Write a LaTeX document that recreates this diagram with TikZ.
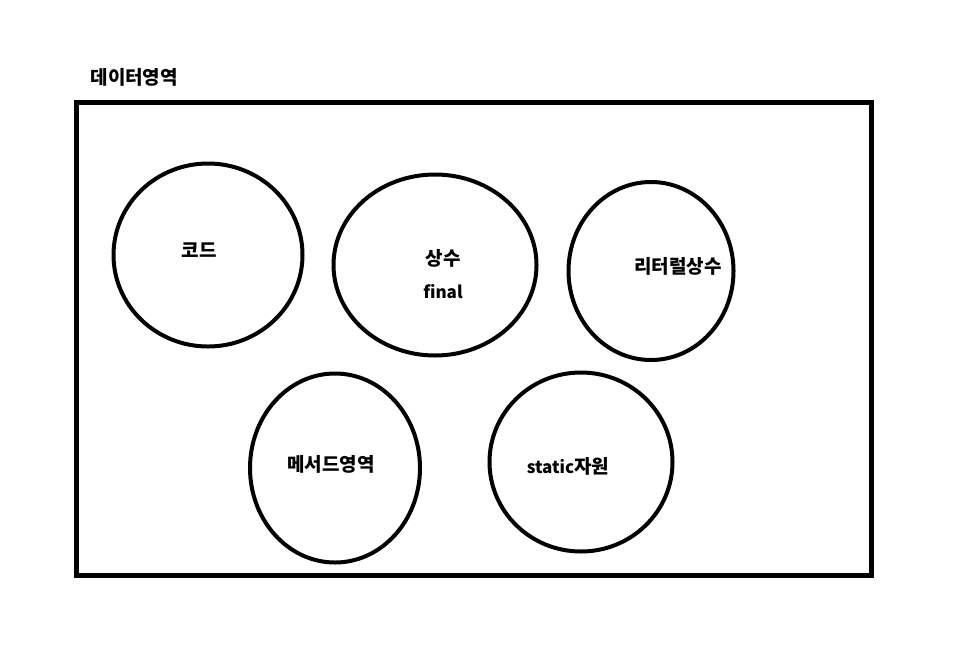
\documentclass[tikz,border=0pt]{standalone}
\usepackage{fontspec}
\setmainfont{Noto Sans CJK KR}
\usepackage{tikz}
\usetikzlibrary{shapes.geometric}

\newcommand{\latin}[1]{{\fontsize{17}{19}\selectfont #1}}

\tikzset{
  area/.style={ellipse,draw,line width=4pt,inner sep=0pt},
  lbl/.style={font=\fontsize{19}{22}\selectfont\bfseries}
}

\begin{document}
\begin{tikzpicture}[x=1pt,y=-1pt]
\useasboundingbox (0,0) rectangle (976,659);

% Data area
\node[lbl,anchor=west] (title) at (87,77) {데이터영역};
\draw[line width=5pt] (76,102) rectangle (871,575);

% Upper row
\node[area,minimum width=189pt,minimum height=183pt] (code) at (208,255) {};
\node[area,minimum width=203pt,minimum height=181pt] (const) at (435,265) {};
\node[area,minimum width=165pt,minimum height=178pt] (literal) at (651,271) {};

% Lower row
\node[area,minimum width=170pt,minimum height=189pt] (method) at (335,468) {};
\node[area,minimum width=183pt,minimum height=179pt] (static) at (581,462) {};

% Labels
\node[lbl] (codetxt) at (199,250) {코드};
\node[lbl] (consttxt) at (443,258) {상수};
\node[lbl] (finaltxt) at (443,292) {\latin{final}};
\node[lbl] (literaltxt) at (678,266) {리터럴상수};
\node[lbl] (methodtxt) at (331,464) {메서드영역};
\node[lbl] (statictxt) at (568,466) {\latin{static}자원};
\end{tikzpicture}
\end{document}
